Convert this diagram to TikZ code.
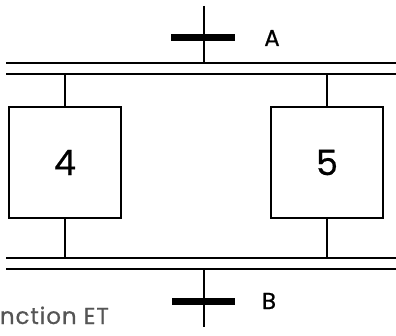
\documentclass[tikz,border=0pt]{standalone}
\usepackage{fontspec}
\setmainfont{Poppins}[FakeBold=0.6]
\usepackage{tikz}
\definecolor{textgray}{RGB}{85,85,85}
\tikzset{
    stepbox/.style={draw, line width=1.6pt, minimum width=112pt, minimum height=111pt, inner sep=0pt, font=\fontsize{35}{35}\selectfont},
    trans/.style={line width=7pt},
    lbl/.style={font=\fontsize{23}{23}\selectfont}
}

\begin{document}
\begin{tikzpicture}[x=1pt, y=1pt, line width=1.6pt]
        \useasboundingbox (0,0) rectangle (396,335);

        \coordinate (In) at (204,329);
        \coordinate (Out) at (204,8);
        \coordinate (TopA) at (6,272);
        \coordinate (TopB) at (396,272);
        \coordinate (TopC) at (6,261);
        \coordinate (TopD) at (396,261);
        \coordinate (BotA) at (6,77);
        \coordinate (BotB) at (396,77);
        \coordinate (BotC) at (6,66);
        \coordinate (BotD) at (396,66);
        \coordinate (TA1) at (171,297);
        \coordinate (TA2) at (235,297);
        \coordinate (TB1) at (172,34);
        \coordinate (TB2) at (235,34);

        \node[stepbox] (S4) at (65,172.5) {4};
        \node[stepbox] (S5) at (327,172.5) {5};

        \draw (In) -- (In |- TopA);
        \draw (TopA) -- (TopB);
        \draw (TopC) -- (TopD);
        \draw (S4.north) -- (S4.north |- TopC);
        \draw (S5.north) -- (S5.north |- TopC);
        \draw (S4.south) -- (S4.south |- BotA);
        \draw (S5.south) -- (S5.south |- BotA);
        \draw (BotA) -- (BotB);
        \draw (BotC) -- (BotD);
        \draw (Out |- BotC) -- (Out);
        \draw[trans] (TA1) -- (TA2);
        \draw[trans] (TB1) -- (TB2);

        \node[lbl] (LA) at (272,297) {A};
        \node[lbl] (LB) at (269,34) {B};
        \node[anchor=base east, text=textgray, font=\fontsize{23}{23}\selectfont\addfontfeatures{LetterSpace=4}] (Title) at (113,11) {nction ET};

    \end{tikzpicture}
\end{document}
